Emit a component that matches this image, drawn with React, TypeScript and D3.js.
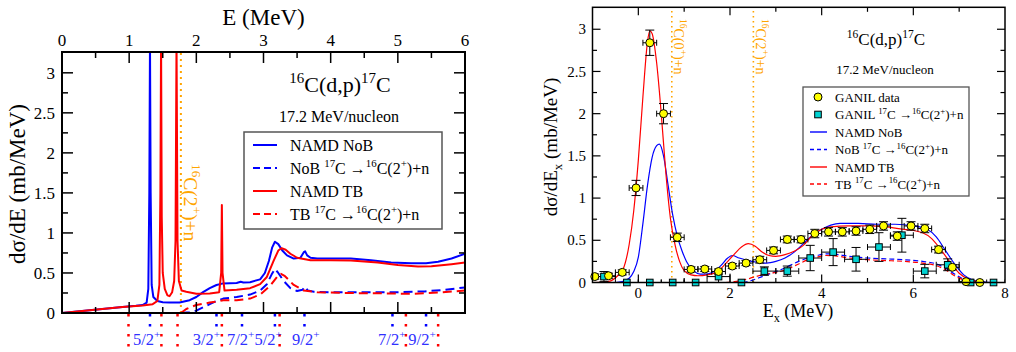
import React, { useEffect, useRef } from "react";
import * as d3 from "d3";

type Pt = [number, number];
type Part = [string, "n" | "sup" | "sub"];

// ---------- left panel: NAMD calculations, dsigma/dE vs E (MeV)
const leftNoB: Pt[] = [
  [0, 0], [0.3, 0.025], [0.6, 0.05], [0.9, 0.075], [1.1, 0.09], [1.2, 0.1], [1.26, 0.13], [1.285, 0.3],
  [1.3, 1.5], [1.31, 3.4], [1.32, 1.5], [1.335, 0.35], [1.36, 0.2], [1.42, 0.15], [1.5, 0.135], [1.6, 0.13],
  [1.75, 0.13], [1.9, 0.16], [2.0, 0.2], [2.1, 0.26], [2.2, 0.31], [2.3, 0.35], [2.4, 0.37], [2.6, 0.375],
  [2.66, 0.39], [2.7, 0.38], [2.8, 0.385], [2.95, 0.42], [3.02, 0.5], [3.08, 0.65], [3.13, 0.82], [3.17, 0.89],
  [3.22, 0.86], [3.28, 0.78], [3.35, 0.72], [3.45, 0.68], [3.55, 0.69], [3.6, 0.76], [3.62, 0.77], [3.65, 0.72],
  [3.7, 0.69], [3.8, 0.68], [4.0, 0.68], [4.3, 0.68], [4.6, 0.66], [4.9, 0.63], [5.2, 0.62], [5.42, 0.62],
  [5.6, 0.64], [5.8, 0.68], [6.0, 0.74],
];
const leftTB: Pt[] = [
  [0, 0], [0.3, 0.025], [0.6, 0.05], [0.9, 0.075], [1.2, 0.095], [1.35, 0.11], [1.42, 0.15], [1.45, 0.35],
  [1.465, 1.5], [1.475, 3.4], [1.485, 1.2], [1.5, 0.5], [1.53, 0.3], [1.57, 0.22], [1.6, 0.21], [1.64, 0.26],
  [1.67, 0.4], [1.69, 0.9], [1.705, 3.4], [1.72, 0.9], [1.74, 0.4], [1.78, 0.28], [1.85, 0.265], [2.0, 0.24],
  [2.2, 0.245], [2.34, 0.26], [2.37, 0.5], [2.38, 1.35], [2.39, 0.5], [2.42, 0.28], [2.6, 0.29], [2.8, 0.31],
  [2.95, 0.36], [3.05, 0.45], [3.15, 0.65], [3.22, 0.78], [3.27, 0.81], [3.33, 0.79], [3.4, 0.74], [3.5, 0.69],
  [3.7, 0.66], [4.0, 0.66], [4.3, 0.655], [4.7, 0.63], [5.0, 0.6], [5.3, 0.58], [5.5, 0.585], [5.8, 0.61],
  [6.0, 0.63],
];
const leftNoBDecay: Pt[] = [
  [1.77, 0], [1.9, 0.01], [2.0, 0.03], [2.1, 0.07], [2.2, 0.11], [2.3, 0.15], [2.4, 0.18], [2.6, 0.2],
  [2.8, 0.23], [2.95, 0.28], [3.05, 0.36], [3.12, 0.48], [3.17, 0.55], [3.22, 0.5], [3.3, 0.4], [3.4, 0.31],
  [3.5, 0.275], [3.58, 0.29], [3.62, 0.33], [3.66, 0.28], [3.75, 0.265], [4.0, 0.26], [4.5, 0.26], [5.0, 0.26],
  [5.4, 0.27], [5.7, 0.29], [6.0, 0.32],
];
const leftTBDecay: Pt[] = [
  [1.77, 0], [1.85, 0.05], [2.0, 0.1], [2.2, 0.13], [2.35, 0.15], [2.4, 0.16], [2.6, 0.16], [2.8, 0.18],
  [2.95, 0.23], [3.1, 0.34], [3.2, 0.45], [3.26, 0.49], [3.32, 0.46], [3.45, 0.35], [3.6, 0.28], [3.8, 0.26],
  [4.2, 0.25], [4.8, 0.245], [5.2, 0.24], [5.6, 0.255], [6.0, 0.28],
];
const leftThreshold = 1.77;
const blueLevels = [1.31, 2.3, 2.68, 3.17, 3.61, 4.92, 5.42];
const redLevels = [0.99, 1.48, 1.72, 2.38, 3.24, 5.12, 5.6];
const levelLabelE = [1.26, 2.15, 2.66, 3.07, 3.63, 4.91, 5.36];
const levelLabelJ = ["5/2", "3/2", "7/2", "5/2", "9/2", "7/2", "9/2"];

// ---------- right panel: comparison with GANIL data, dsigma/dEx vs Ex (MeV)
const ganilE = [-0.95, -0.65, -0.35, -0.05, 0.25, 0.55, 0.85, 1.15, 1.45, 1.75, 2.05, 2.35, 2.65, 2.95, 3.25,
  3.55, 3.85, 4.15, 4.45, 4.75, 5.05, 5.35, 5.65, 5.95, 6.25, 6.55, 6.85, 7.15, 7.45];
const ganilY = [0.07, 0.08, 0.12, 1.12, 2.84, 2.0, 0.535, 0.155, 0.16, 0.13, 0.195, 0.23, 0.27, 0.38, 0.51,
  0.51, 0.58, 0.6, 0.6, 0.61, 0.63, 0.67, 0.55, 0.67, 0.64, 0.39, 0.18, 0.01, 0];
const ganilErr = [0.03, 0.03, 0.03, 0.09, 0.15, 0.12, 0.05, 0.03, 0.03, 0.03, 0.03, 0.03, 0.04, 0.04, 0.04,
  0.04, 0.05, 0.05, 0.05, 0.05, 0.05, 0.05, 0.05, 0.05, 0.05, 0.04, 0.03, 0.01, 0.01];
const ganilDx = 0.15;
const decayE = [-0.75, -0.25, 0.25, 0.75, 1.25, 1.75, 2.25, 2.75, 3.25, 3.75, 4.25, 4.75, 5.25, 5.75, 6.25,
  6.75, 7.25, 7.75];
const decayY = [0.07, 0, 0, 0, 0, 0.07, 0, 0.135, 0.135, 0.29, 0.36, 0.275, 0.42, 0.56, 0.135, 0.21, 0, 0];
const decayErr = [0.06, 0, 0, 0, 0, 0.07, 0, 0.05, 0.06, 0.15, 0.16, 0.14, 0.17, 0.2, 0.08, 0.07, 0, 0];
const decayDx = 0.25;

const rightNoB: Pt[] = [
  [-1, 0], [-0.5, 0], [-0.35, 0.01], [-0.2, 0.05], [-0.1, 0.13], [0, 0.3], [0.1, 0.7], [0.2, 1.15], [0.3, 1.48],
  [0.4, 1.62], [0.46, 1.64], [0.55, 1.5], [0.65, 1.15], [0.75, 0.8], [0.85, 0.55], [0.95, 0.38], [1.05, 0.25],
  [1.2, 0.14], [1.35, 0.1], [1.5, 0.1], [1.65, 0.13], [1.8, 0.2], [1.95, 0.29], [2.05, 0.32], [2.2, 0.29],
  [2.4, 0.26], [2.6, 0.24], [2.8, 0.23], [3.0, 0.25], [3.2, 0.29], [3.4, 0.36], [3.6, 0.46], [3.8, 0.56],
  [4.0, 0.63], [4.2, 0.68], [4.4, 0.7], [4.8, 0.7], [5.2, 0.69], [5.6, 0.69], [6.0, 0.67], [6.3, 0.63],
  [6.5, 0.54], [6.7, 0.38], [6.9, 0.22], [7.1, 0.09], [7.3, 0.03], [7.5, 0.01], [7.7, 0], [8, 0],
];
const rightTB: Pt[] = [
  [-1, 0], [-0.75, 0.005], [-0.6, 0.02], [-0.45, 0.08], [-0.33, 0.16], [-0.2, 0.45], [-0.1, 0.85], [0, 1.45],
  [0.1, 2.2], [0.2, 2.85], [0.25, 2.98], [0.3, 2.95], [0.4, 2.6], [0.5, 2.0], [0.6, 1.3], [0.7, 0.76],
  [0.8, 0.45], [0.9, 0.25], [1.0, 0.14], [1.15, 0.09], [1.3, 0.08], [1.5, 0.09], [1.7, 0.12], [1.9, 0.22],
  [2.1, 0.34], [2.25, 0.42], [2.4, 0.46], [2.55, 0.43], [2.7, 0.36], [2.85, 0.32], [3.0, 0.31], [3.2, 0.33],
  [3.4, 0.37], [3.6, 0.44], [3.8, 0.56], [4.0, 0.63], [4.2, 0.66], [4.6, 0.67], [5.0, 0.67], [5.4, 0.66],
  [5.8, 0.63], [6.2, 0.59], [6.4, 0.52], [6.6, 0.39], [6.8, 0.24], [7.0, 0.11], [7.2, 0.04], [7.4, 0.01],
  [7.6, 0], [8, 0],
];
const rightNoBDecay: Pt[] = [
  [2.1, 0], [2.3, 0.005], [2.5, 0.03], [2.7, 0.07], [2.9, 0.11], [3.1, 0.15], [3.3, 0.2], [3.5, 0.25],
  [3.7, 0.29], [3.9, 0.32], [4.1, 0.34], [4.3, 0.335], [4.6, 0.31], [5.0, 0.29], [5.4, 0.28], [5.8, 0.27],
  [6.2, 0.25], [6.5, 0.22], [6.7, 0.17], [6.9, 0.1], [7.1, 0.04], [7.3, 0.01], [7.5, 0], [8, 0],
];
const rightTBDecay: Pt[] = [
  [1.9, 0], [2.1, 0.01], [2.3, 0.03], [2.5, 0.06], [2.7, 0.09], [2.9, 0.11], [3.1, 0.13], [3.3, 0.17],
  [3.5, 0.22], [3.7, 0.27], [3.9, 0.3], [4.1, 0.32], [4.3, 0.315], [4.6, 0.29], [5.0, 0.27], [5.4, 0.26],
  [5.8, 0.25], [6.2, 0.23], [6.5, 0.2], [6.7, 0.15], [6.9, 0.08], [7.1, 0.03], [7.3, 0.005], [7.5, 0], [8, 0],
];
const rightThresholds = [0.73, 2.51];
const rightThresholdLabels: Part[][] = [
  [["16", "sup"], ["C(0", "n"], ["+", "sup"], [")+n", "n"]],
  [["16", "sup"], ["C(2", "n"], ["+", "sup"], [")+n", "n"]],
];

const BLUE = "#0000ff";
const RED = "#ff0000";
const ORANGE = "#ffa500";
const FONT = "'Liberation Serif', 'Times New Roman', Tinos, serif";

const title: Part[] = [["16", "sup"], ["C(d,p)", "n"], ["17", "sup"], ["C", "n"]];
const decayText = (pre: string): Part[] => [
  [pre + " ", "n"], ["17", "sup"], ["C \u2192", "n"], ["16", "sup"], ["C(2", "n"], ["+", "sup"], [")+n", "n"],
];

// write text made of normal / superscript / subscript pieces
function rich(sel: any, parts: Part[], size: number) {
  let cur = 0;
  parts.forEach(([t, k]) => {
    const shift = k === "sup" ? -0.42 * size : k === "sub" ? 0.28 * size : 0;
    sel.append("tspan")
      .attr("dy", shift - cur)
      .attr("font-size", k === "n" ? size : size * 0.68)
      .text(t);
    cur = shift;
  });
}

function frame(g: any, x: any, y: any, o: any) {
  const [x0, x1] = x.range();
  const [y0, y1] = y.range();
  const ticks = g.append("g").attr("stroke", "#000").attr("stroke-width", o.sw);
  const tick = (v: number, len: number, horiz: boolean) => {
    if (horiz) {
      const px = x(v);
      if (px <= x0 + 1 || px >= x1 - 1) return;
      ticks.append("line").attr("x1", px).attr("x2", px).attr("y1", y0).attr("y2", y0 - len);
      ticks.append("line").attr("x1", px).attr("x2", px).attr("y1", y1).attr("y2", y1 + len);
    } else {
      const py = y(v);
      if (py >= y0 - 1 || py <= y1 + 1) return;
      ticks.append("line").attr("x1", x0).attr("x2", x0 + len).attr("y1", py).attr("y2", py);
      ticks.append("line").attr("x1", x1).attr("x2", x1 - len).attr("y1", py).attr("y2", py);
    }
  };
  const xd = x.domain();
  const yd = y.domain();
  d3.range(Math.ceil(xd[0] / o.xMinor) * o.xMinor, xd[1] + 1e-9, o.xMinor).forEach((v) => {
    const major = Math.abs(v / o.xMajor - Math.round(v / o.xMajor)) < 1e-6;
    tick(v, major ? o.len : o.lenMinor, true);
  });
  d3.range(0, yd[1] + 1e-9, o.yMinor).forEach((v) => {
    const major = Math.abs(v / o.yMajor - Math.round(v / o.yMajor)) < 1e-6;
    tick(v, major ? o.len : o.lenMinor, false);
  });
  g.append("rect")
    .attr("x", x0).attr("y", y1).attr("width", x1 - x0).attr("height", y0 - y1)
    .attr("fill", "none").attr("stroke", "#000").attr("stroke-width", o.frameW);
}

function App() {
  const ref = useRef<SVGSVGElement>(null);

  useEffect(() => {
    const svg = d3.select(ref.current);
    svg.selectAll("*").remove();
    const root = svg.append("g");

    const fmt = d3.format("~g");

    // ================= left panel =================
    const xL = d3.scaleLinear().domain([0, 6]).range([62, 465]);
    const yL = d3.scaleLinear().domain([0, 3.26]).range([313, 52]);

    const defs = svg.append("defs");
    defs.append("clipPath").attr("id", "clipL").append("rect")
      .attr("x", 62).attr("y", 52).attr("width", 403).attr("height", 261);
    defs.append("clipPath").attr("id", "clipR").append("rect")
      .attr("x", 592.5).attr("y", 7.3).attr("width", 412.5).attr("height", 275.2);

    const gL = root.append("g");
    const lineL = d3.line<Pt>().x((d) => xL(d[0])).y((d) => yL(d[1]));
    const cL = gL.append("g").attr("clip-path", "url(#clipL)");

    // threshold 16C(2+)+n
    cL.append("line")
      .attr("x1", xL(leftThreshold)).attr("x2", xL(leftThreshold))
      .attr("y1", yL(0)).attr("y2", yL(3.26))
      .attr("stroke", ORANGE).attr("stroke-width", 2).attr("stroke-dasharray", "2,4");

    const curvesL: [Pt[], string, string | null][] = [
      [leftNoBDecay, BLUE, "9,5"],
      [leftTBDecay, RED, "9,5"],
      [leftNoB, BLUE, null],
      [leftTB, RED, null],
    ];
    curvesL.forEach(([d, c, dash]) => {
      cL.append("path").attr("d", lineL(d)).attr("fill", "none")
        .attr("stroke", c).attr("stroke-width", 2)
        .attr("stroke-dasharray", dash).attr("stroke-linejoin", "round");
    });

    const thrL = gL.append("text")
      .attr("transform", `translate(${xL(leftThreshold) + 3},164) rotate(90)`)
      .attr("fill", ORANGE);
    rich(thrL, [["16", "sup"], ["C(2", "n"], ["+", "sup"], [")+n", "n"]], 19.5);

    frame(gL, xL, yL, { xMajor: 1, xMinor: 0.5, yMajor: 0.5, yMinor: 0.25, len: 11, lenMinor: 6, sw: 1.5, frameW: 2 });

    // top tick labels and title
    gL.append("g").selectAll("text").data(d3.range(0, 7)).join("text")
      .attr("x", (d) => xL(d)).attr("y", 46).attr("text-anchor", "middle")
      .attr("font-size", 17).text((d) => fmt(d));
    gL.append("text").attr("x", xL(3)).attr("y", 25).attr("text-anchor", "middle")
      .attr("font-size", 23).text("E (MeV)");

    gL.append("g").selectAll("text").data(d3.range(0, 3.01, 0.5)).join("text")
      .attr("x", 55).attr("y", (d) => yL(d)).attr("dy", "0.34em").attr("text-anchor", "end")
      .attr("font-size", 17).text((d) => fmt(d));
    gL.append("text").attr("transform", "translate(25,184) rotate(-90)")
      .attr("text-anchor", "middle").attr("font-size", 23).text("d\u03c3/dE (mb/MeV)");

    const tL = gL.append("text").attr("x", 340).attr("y", 92).attr("text-anchor", "middle");
    rich(tL, title, 22);
    gL.append("text").attr("x", 339).attr("y", 122).attr("text-anchor", "middle")
      .attr("font-size", 16).text("17.2 MeV/nucleon");

    // legend
    const lgL = gL.append("g");
    lgL.append("rect").attr("x", 244).attr("y", 132).attr("width", 198).attr("height", 97)
      .attr("fill", "#fff").attr("stroke", "#555").attr("stroke-width", 1.5);
    const legL: [string, string | null, Part[]][] = [
      [BLUE, null, [["NAMD NoB", "n"]]],
      [BLUE, "7,4", decayText("NoB")],
      [RED, null, [["NAMD TB", "n"]]],
      [RED, "7,4", decayText("TB")],
    ];
    const rowsL = [145, 168, 191, 214];
    legL.forEach(([c, dash, txt], i) => {
      lgL.append("line").attr("x1", 253).attr("x2", 277).attr("y1", rowsL[i]).attr("y2", rowsL[i])
        .attr("stroke", c).attr("stroke-width", 2).attr("stroke-dasharray", dash);
      const t = lgL.append("text").attr("x", 290).attr("y", rowsL[i] + 5.5);
      rich(t, txt, 16);
    });

    // level markers under the axis
    const lv = gL.append("g");
    redLevels.forEach((e) => {
      lv.append("line").attr("x1", xL(e)).attr("x2", xL(e)).attr("y1", 314).attr("y2", 352)
        .attr("stroke", RED).attr("stroke-width", 2.5).attr("stroke-dasharray", "2.5,7.5");
    });
    blueLevels.forEach((e) => {
      lv.append("line").attr("x1", xL(e)).attr("x2", xL(e)).attr("y1", 314).attr("y2", 328)
        .attr("stroke", BLUE).attr("stroke-width", 2.5).attr("stroke-dasharray", "2.5,7.5");
    });
    levelLabelE.forEach((e, i) => {
      const t = lv.append("text").attr("x", xL(e)).attr("y", 345).attr("text-anchor", "middle")
        .attr("fill", "#3030ff");
      rich(t, [[levelLabelJ[i], "n"], ["+", "sup"]], 16.5);
    });

    // ================= right panel =================
    const xR = d3.scaleLinear().domain([-1, 8]).range([592.5, 1005]);
    const yR = d3.scaleLinear().domain([0, 3.26]).range([282.5, 7.3]);
    const gR = root.append("g");
    const cR = gR.append("g").attr("clip-path", "url(#clipR)");
    const lineR = d3.line<Pt>().x((d) => xR(d[0])).y((d) => yR(d[1])).curve(d3.curveMonotoneX);

    rightThresholds.forEach((e, i) => {
      cR.append("line").attr("x1", xR(e)).attr("x2", xR(e)).attr("y1", yR(0)).attr("y2", yR(3.26))
        .attr("stroke", ORANGE).attr("stroke-width", 1.6).attr("stroke-dasharray", "1.6,3.4");
      const t = gR.append("text")
        .attr("transform", `translate(${xR(e) + 2.5},19) rotate(90)`).attr("fill", ORANGE);
      rich(t, rightThresholdLabels[i], 14);
    });

    const curvesR: [Pt[], string, string | null][] = [
      [rightNoBDecay, BLUE, "5,3"],
      [rightTBDecay, RED, "5,3"],
      [rightNoB, BLUE, null],
      [rightTB, RED, null],
    ];
    curvesR.forEach(([d, c, dash]) => {
      cR.append("path").attr("d", lineR(d)).attr("fill", "none")
        .attr("stroke", c).attr("stroke-width", 1.2).attr("stroke-dasharray", dash);
    });

    // error bars + markers
    const errs = cR.append("g").attr("stroke", "#000").attr("stroke-width", 1);
    const drawErr = (e: number, v: number, dy: number, dx: number) => {
      const cx = xR(e), cy = yR(v);
      errs.append("line").attr("x1", xR(e - dx)).attr("x2", xR(e + dx)).attr("y1", cy).attr("y2", cy);
      errs.append("line").attr("x1", xR(e - dx)).attr("x2", xR(e - dx)).attr("y1", cy - 3).attr("y2", cy + 3);
      errs.append("line").attr("x1", xR(e + dx)).attr("x2", xR(e + dx)).attr("y1", cy - 3).attr("y2", cy + 3);
      if (dy > 0) {
        errs.append("line").attr("x1", cx).attr("x2", cx).attr("y1", yR(v - dy)).attr("y2", yR(v + dy));
        errs.append("line").attr("x1", cx - 4.5).attr("x2", cx + 4.5).attr("y1", yR(v - dy)).attr("y2", yR(v - dy));
        errs.append("line").attr("x1", cx - 4.5).attr("x2", cx + 4.5).attr("y1", yR(v + dy)).attr("y2", yR(v + dy));
      }
    };
    decayE.forEach((e, i) => drawErr(e, decayY[i], decayErr[i], decayDx));
    ganilE.forEach((e, i) => drawErr(e, ganilY[i], ganilErr[i], ganilDx));

    const marks = gR.append("g").attr("stroke", "#000").attr("stroke-width", 1);
    decayE.forEach((e, i) => {
      marks.append("rect").attr("x", xR(e) - 3.3).attr("y", yR(decayY[i]) - 3.3)
        .attr("width", 6.6).attr("height", 6.6).attr("fill", "#00d2d2");
    });
    ganilE.forEach((e, i) => {
      marks.append("circle").attr("cx", xR(e)).attr("cy", yR(ganilY[i])).attr("r", 4)
        .attr("fill", "#ffff00");
    });

    frame(gR, xR, yR, { xMajor: 2, xMinor: 1, yMajor: 0.5, yMinor: 0.25, len: 8, lenMinor: 4.5, sw: 1.2, frameW: 1.5 });

    gR.append("g").selectAll("text").data(d3.range(0, 8.01, 2)).join("text")
      .attr("x", (d) => xR(d)).attr("y", 298).attr("text-anchor", "middle")
      .attr("font-size", 15).text((d) => fmt(d));
    gR.append("g").selectAll("text").data(d3.range(0, 3.01, 0.5)).join("text")
      .attr("x", 586).attr("y", (d) => yR(d)).attr("dy", "0.34em").attr("text-anchor", "end")
      .attr("font-size", 15).text((d) => fmt(d));

    const xt = gR.append("text").attr("x", 798).attr("y", 317).attr("text-anchor", "middle");
    rich(xt, [["E", "n"], ["x", "sub"], [" (MeV)", "n"]], 18);
    const yt = gR.append("text").attr("transform", "translate(557,147) rotate(-90)").attr("text-anchor", "middle");
    rich(yt, [["d\u03c3/dE", "n"], ["x", "sub"], [" (mb/MeV)", "n"]], 19);

    const tR = gR.append("text").attr("x", 886).attr("y", 45).attr("text-anchor", "middle");
    rich(tR, title, 17);
    gR.append("text").attr("x", 885).attr("y", 74).attr("text-anchor", "middle")
      .attr("font-size", 13).text("17.2 MeV/nucleon");

    const lgR = gR.append("g");
    lgR.append("rect").attr("x", 803).attr("y", 87).attr("width", 166).attr("height", 109)
      .attr("fill", "#fff").attr("stroke", "#555").attr("stroke-width", 1.3);
    const rowsR = [97, 114.5, 132, 149.5, 167, 184];
    const legR: [string, Part[]][] = [
      ["circle", [["GANIL data", "n"]]],
      ["square", decayText("GANIL")],
      ["blue", [["NAMD NoB", "n"]]],
      ["blueDash", decayText("NoB")],
      ["red", [["NAMD TB", "n"]]],
      ["redDash", decayText("TB")],
    ];
    legR.forEach(([k, txt], i) => {
      const y = rowsR[i];
      if (k === "circle") {
        lgR.append("circle").attr("cx", 818).attr("cy", y).attr("r", 4)
          .attr("fill", "#ffff00").attr("stroke", "#000");
      } else if (k === "square") {
        lgR.append("rect").attr("x", 814.7).attr("y", y - 3.3).attr("width", 6.6).attr("height", 6.6)
          .attr("fill", "#00d2d2").attr("stroke", "#000");
      } else {
        lgR.append("line").attr("x1", 810).attr("x2", 827).attr("y1", y).attr("y2", y)
          .attr("stroke", k.startsWith("blue") ? BLUE : RED).attr("stroke-width", 1.4)
          .attr("stroke-dasharray", k.endsWith("Dash") ? "4,3" : null);
      }
      const t = lgR.append("text").attr("x", 835).attr("y", y + 4.5);
      rich(t, txt, 13);
    });

    // set the serif face on every text and tspan directly
    svg.selectAll("text, tspan").style("font-family", FONT).style("font-weight", "normal");
  }, []);

  return (
    <svg ref={ref} width={1016} height={352}
      style={{ position: "absolute", left: 0, top: 0, background: "#fff" }} />
  );
}

export default App;
